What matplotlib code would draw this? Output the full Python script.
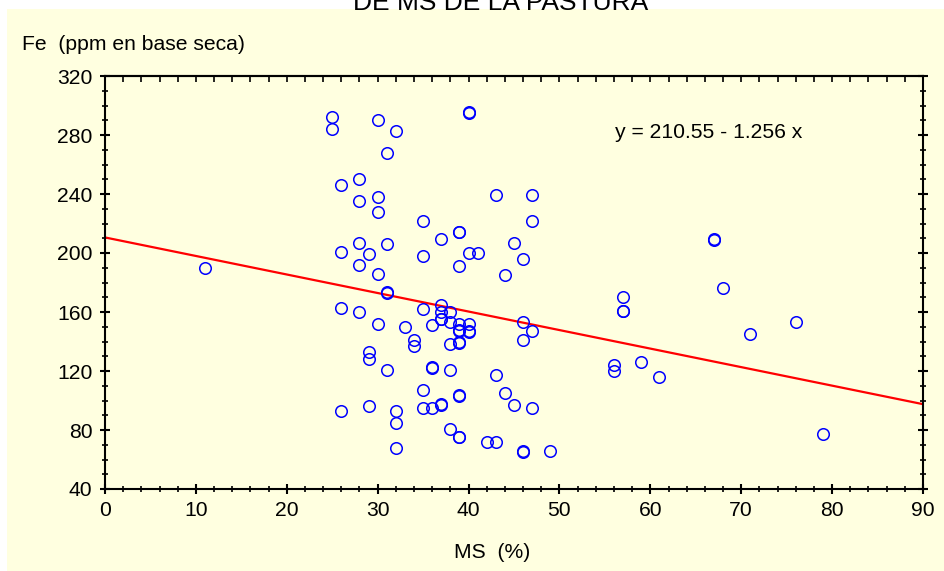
import numpy as np
import matplotlib.pyplot as plt
from matplotlib.patches import Rectangle
from matplotlib.ticker import MultipleLocator

plt.rcParams['font.family'] = ['Liberation Sans', 'DejaVu Sans']

# MS (%) and Fe (ppm)
ms = [11,
      25, 25,
      26, 26, 26, 26,
      28, 28, 28, 28, 28,
      29, 29, 29, 29,
      30, 30, 30, 30, 30,
      31, 31, 31, 31, 31,
      32, 32, 32, 32,
      33,
      34, 34,
      35, 35, 35, 35, 35,
      36, 36, 36, 36,
      37, 37, 37, 37, 37, 37, 37,
      38, 38, 38, 38, 38,
      39, 39, 39, 39, 39, 39, 39, 39, 39, 39, 39, 39,
      40, 40, 40, 40, 40, 40,
      41, 42,
      43, 43, 43,
      44, 44,
      45, 45,
      46, 46, 46, 46, 46,
      47, 47, 47, 47,
      49,
      56, 56,
      57, 57, 57,
      59, 61,
      67, 67,
      68, 71, 76, 79]
fe = [190,
      292, 284,
      246, 201, 163, 93,
      250, 235, 207, 192, 160,
      199, 133, 128, 96,
      290, 238, 228, 186, 152,
      268, 206, 173, 173.5, 121,
      283, 93, 85, 68,
      150,
      141, 137,
      222, 198, 162, 107, 95,
      151, 122, 122.5, 95,
      209.5, 165, 160, 155, 155.5, 97, 97.5,
      160, 153, 138, 121, 81,
      214, 214.5, 191, 152, 147, 147.5, 139, 139.5, 103, 103.5, 75, 75.5,
      295, 295.5, 200, 152, 147, 146.5,
      200, 72,
      239, 117, 72,
      185, 105,
      207, 97,
      196, 153, 141, 65, 65.5,
      239, 222, 147, 95,
      66,
      124, 120,
      170, 161, 160.5,
      126, 116,
      209, 209.5,
      176, 145, 153.5, 77]

# fitted line as printed on the chart
intercept = 210.55
slope = -1.256
x_range = [0, 90]
y_range = [40, 320]

bg = '#FFFFE0'
fs = 15.2

fig = plt.figure(figsize=(9.45, 5.71), dpi=100)
fig.patches.append(Rectangle((7 / 945, 0), 1, 1 - 9 / 571, transform=fig.transFigure,
                             facecolor=bg, edgecolor='none', zorder=-10))

ax = fig.add_axes([105 / 945, 1 - 489 / 571, 818 / 945, 413 / 571])
ax.set_facecolor(bg)

ax.plot(ms, fe, 'o', mfc='none', mec='#0000FF', ms=8.3, mew=1.1, zorder=3)

line_x = np.array(x_range, dtype=float)
ax.plot(line_x, intercept + slope * line_x, color='#FF0000', lw=1.6, zorder=2)

ax.set_xlim(x_range)
ax.set_ylim(y_range)
ax.xaxis.set_major_locator(MultipleLocator(10))
ax.xaxis.set_minor_locator(MultipleLocator(2))
ax.yaxis.set_major_locator(MultipleLocator(40))
ax.yaxis.set_minor_locator(MultipleLocator(10))

for s in ax.spines.values():
    s.set_linewidth(1.5)

ax.tick_params(which='major', direction='inout', length=7, width=1.5,
               labelsize=fs, pad=5.5, top=False, right=True)
ax.tick_params(which='minor', direction='inout', length=5, width=1.2,
               top=False, right=True)

# top edge has inward ticks only
sec = ax.secondary_xaxis('top')
sec.xaxis.set_major_locator(MultipleLocator(10))
sec.xaxis.set_minor_locator(MultipleLocator(2))
sec.tick_params(which='both', direction='in', length=4, width=1.2, labeltop=False)
sec.spines['top'].set_linewidth(1.5)

ax.text((615 - 105) / 818, (489 - 138) / 413, 'y = 210.55 - 1.256 x',
        transform=ax.transAxes, fontsize=fs, va='baseline', ha='left')

fig.text(22 / 945, 1 - 50 / 571, 'Fe  (ppm en base seca)', fontsize=fs,
         va='baseline', ha='left')
fig.text(492 / 945, 1 - 552 / 571, 'MS  (%)', fontsize=fs, va='center', ha='center')
fig.text(501 / 945, 1 - 10 / 571, 'DE MS DE LA PASTURA', fontsize=19,
         va='baseline', ha='center')

fig.savefig('out.png', dpi=100)
